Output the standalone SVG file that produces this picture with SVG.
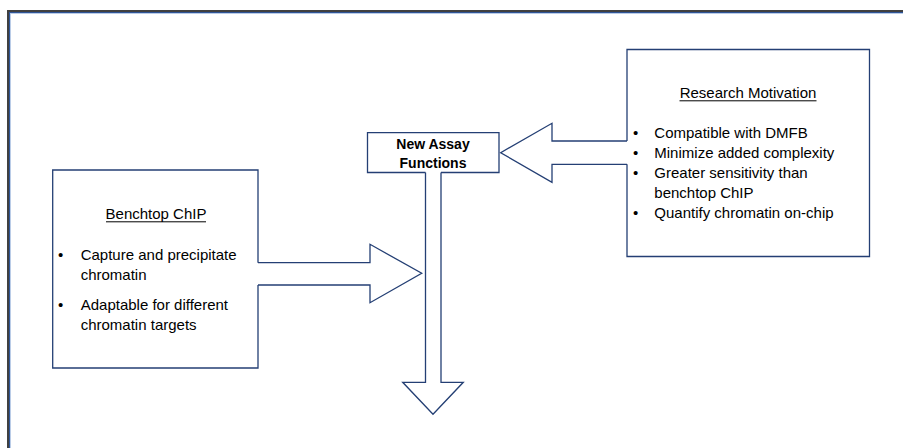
<svg xmlns="http://www.w3.org/2000/svg" width="903" height="448" viewBox="0 0 903 448">
<style>
.frame{fill:none}
.edge{fill:none;stroke:#243F74;stroke-width:1.3;stroke-linejoin:miter}
.conn{fill:#ffffff;stroke:#243F74;stroke-width:1.3;stroke-linejoin:miter}
.t{font-family:"Liberation Sans",Arial,sans-serif;font-size:15px;fill:#000}
.b{font-family:"Liberation Sans",Arial,sans-serif;font-size:14px;font-weight:bold;fill:#000}
.ul{stroke:#000;stroke-width:1}
</style>
<rect width="903" height="448" fill="#ffffff"/>
<g id="frame">
<rect class="frame" x="8" y="11" width="1000" height="1000" stroke="#404040" stroke-width="2"/>
<rect class="frame" x="9.6" y="12.6" width="1000" height="1000" stroke="#2F5597" stroke-width="1.2"/>
<rect class="frame" x="10.5" y="13.5" width="1000" height="1000" stroke="#B4C7E7" stroke-width="0.8"/>
</g>
<g id="connectors">
<path class="conn" d="M627,141 H552 V123.3 L500.7,152.7 L552,182.3 V164.3 H627"/>
<path class="conn" d="M258,262.7 H370 V244.3 L421.7,273.3 L370,302.7 V285 H258"/>
<path class="conn" d="M425.5,172.5 V382.3 H402.7 L433,414.3 L463.3,382.3 H441 V172.5"/>
</g>
<g id="research-motivation">
<path class="edge" d="M627,141 V49.5 H869.5 V256.5 H627 V164.3"/>
<text class="t" x="748" y="98.3" text-anchor="middle">Research Motivation</text>
<line class="ul" x1="679.5" y1="100.8" x2="816.5" y2="100.8"/>
<text class="t" x="633" y="138.3">•</text>
<text class="t" x="654.3" y="138.3">Compatible with DMFB</text>
<text class="t" x="633" y="158.3">•</text>
<text class="t" x="654.3" y="158.3">Minimize added complexity</text>
<text class="t" x="633" y="178.2">•</text>
<text class="t" x="654.3" y="178.2">Greater sensitivity than</text>
<text class="t" x="654.3" y="198">benchtop ChIP</text>
<text class="t" x="633" y="217.7">•</text>
<text class="t" x="654.3" y="217.7">Quantify chromatin on-chip</text>
</g>
<g id="new-assay-functions">
<path class="edge" d="M425.5,172.5 H367.5 V132.7 H499 V172.5 H441"/>
<text class="b" x="433" y="149.3" text-anchor="middle">New Assay</text>
<text class="b" x="433" y="167.5" text-anchor="middle">Functions</text>
</g>
<g id="benchtop-chip">
<path class="edge" d="M258,262.7 V170 H52.7 V368 H258 V285"/>
<text class="t" x="156" y="219.3" text-anchor="middle">Benchtop ChIP</text>
<line class="ul" x1="106" y1="221.8" x2="206" y2="221.8"/>
<text class="t" x="58" y="260">•</text>
<text class="t" x="80.7" y="260">Capture and precipitate</text>
<text class="t" x="80.7" y="280">chromatin</text>
<text class="t" x="58" y="310">•</text>
<text class="t" x="80.7" y="310">Adaptable for different</text>
<text class="t" x="80.7" y="330">chromatin targets</text>
</g>
</svg>
